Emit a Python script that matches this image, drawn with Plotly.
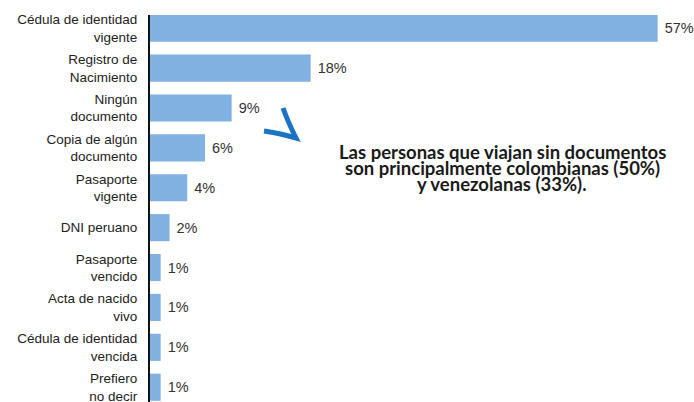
import plotly.graph_objects as go

categories = [
    "Cédula de identidad<br>vigente",
    "Registro de<br>Nacimiento",
    "Ningún<br>documento",
    "Copia de algún<br>documento",
    "Pasaporte<br>vigente",
    "DNI peruano",
    "Pasaporte<br>vencido",
    "Acta de nacido<br>vivo",
    "Cédula de identidad<br>vencida",
    "Prefiero<br>no decir",
]
values = [57.2, 18.1, 9.2, 6.2, 4.2, 2.2, 1.2, 1.2, 1.2, 1.2]
labels = ["57%", "18%", "9%", "6%", "4%", "2%", "1%", "1%", "1%", "1%"]
note_lines = [
    "Las personas que viajan sin documentos",
    "son principalmente colombianas (50%)",
    "y venezolanas (33%).",
]

W, H = 694, 402
ML, MR, MT, MB = 150, 0, 15, 0
PW, PH = W - ML - MR, H - MT - MB

fig = go.Figure()
fig.add_trace(go.Bar(
    x=values, y=list(range(len(categories))), orientation="h",
    marker=dict(color="#80b1e1", line=dict(width=0)),
    width=0.68,
    text=[" " + t for t in labels], textposition="outside",
    textfont=dict(family="Liberation Sans, Arial", size=14.5, color="#333333"),
    cliponaxis=False,
    hoverinfo="skip",
))

fig.update_layout(
    width=W, height=H,
    margin=dict(l=ML, r=MR, t=MT, b=MB, autoexpand=False),
    plot_bgcolor="white", paper_bgcolor="white",
    showlegend=False,
    xaxis=dict(range=[0, 61.3], visible=False, showgrid=False, zeroline=False),
    yaxis=dict(
        tickmode="array", tickvals=list(range(len(categories))), ticktext=categories,
        range=[9.37, -0.33], automargin=False,
        showline=True, linecolor="#111111", linewidth=2,
        showgrid=False, zeroline=False,
        ticks="outside", ticklen=8, tickcolor="rgba(0,0,0,0)",
        ticklabeloverflow="allow",
        tickfont=dict(family="Liberation Sans, Arial", size=13.5, color="#222222"),
    ),
)

def px(xp, yp):
    return (xp - ML) / PW, 1 - (yp - MT) / PH

# chevron arrow decoration
p1 = px(283, 108); p2 = px(296, 138); p3 = px(264, 131)
c1 = px(288, 122); c2 = px(279, 133)
fig.add_shape(
    type="path", xref="paper", yref="paper",
    path=f"M {p1[0]},{p1[1]} Q {c1[0]},{c1[1]} {p2[0]},{p2[1]} Q {c2[0]},{c2[1]} {p3[0]},{p3[1]}",
    line=dict(color="#1b74c3", width=5),
)

for line, yp in zip(note_lines, [152, 168, 184]):
    xx, yy = px(502, yp)
    fig.add_annotation(
        x=xx, y=yy, xref="paper", yref="paper",
        text=f"<b>{line}</b>", showarrow=False, xanchor="center", yanchor="middle",
        font=dict(family="Lato", size=18.5, color="#1a1a1a"),
    )

fig.write_html(
    "out.html",
    config={"displayModeBar": False},
    post_script="document.body.style.margin='0';document.body.style.padding='0';",
)
